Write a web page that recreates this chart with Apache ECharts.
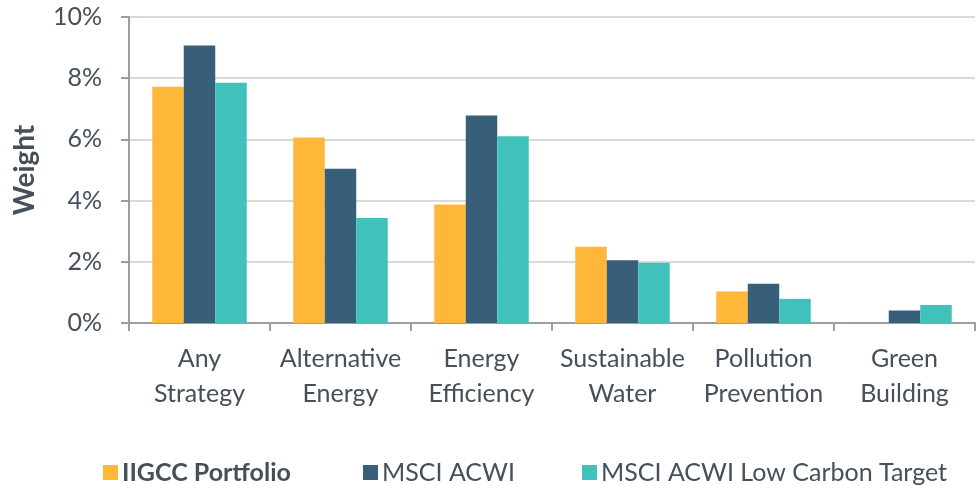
<!DOCTYPE html>
<html>
<head>
<meta charset="utf-8">
<script src="https://cdn.jsdelivr.net/npm/echarts@6/dist/echarts.min.js"></script>
<style>
  html, body { margin: 0; padding: 0; background: #fff; }
  #chart { width: 979px; height: 485px; }
</style>
</head>
<body>
<div id="chart"></div>
<script>
// Thematic strategy weights by portfolio (%)
const categories = ['Any\nStrategy', 'Alternative\nEnergy', 'Energy\nEfficiency', 'Sustainable\nWater', 'Pollution\nPrevention', 'Green\nBuilding'];
const seriesNames = ['IIGCC Portfolio', 'MSCI ACWI', 'MSCI ACWI Low Carbon Target'];
const iigccPortfolio = [7.72, 6.06, 3.87, 2.49, 1.03, 0];
const msciAcwi = [9.07, 5.04, 6.78, 2.05, 1.28, 0.41];
const msciAcwiLowCarbon = [7.85, 3.43, 6.10, 1.97, 0.79, 0.59];
const yTicks = [0, 2, 4, 6, 8, 10];

const colors = ['#FFB739', '#375F7A', '#41C1BB'];
const textColor = '#46505A';
const fontFamily = 'Lato, "Open Sans", sans-serif';

const chart = echarts.init(document.getElementById('chart'));

const legendPos = [98, 358, 577];
const legends = seriesNames.map((name, i) => ({
  data: [name],
  left: legendPos[i],
  top: 455,
  itemWidth: 15,
  itemHeight: 15,
  itemGap: 8,
  icon: 'rect',
  textStyle: {
    color: textColor,
    fontSize: 25,
    fontFamily: fontFamily,
    fontWeight: i === 0 ? 'bold' : 'normal',
    padding: [0, 0, 0, -1]
  }
}));

chart.setOption({
  animation: false,
  color: colors,
  textStyle: { fontFamily: fontFamily },
  legend: legends,
  grid: { left: 129, right: 4, top: 17, bottom: 162, containLabel: false },
  xAxis: {
    type: 'category',
    data: categories,
    axisLine: { lineStyle: { color: '#9A9FA3', width: 2 } },
    axisTick: { show: true, length: 8, lineStyle: { color: '#9A9FA3', width: 2 } },
    axisLabel: {
      interval: 0,
      color: textColor,
      fontSize: 25,
      lineHeight: 35,
      margin: 18,
      fontFamily: fontFamily
    }
  },
  yAxis: {
    type: 'value',
    min: yTicks[0],
    max: yTicks[yTicks.length - 1],
    interval: 2,
    name: 'Weight',
    nameLocation: 'middle',
    nameGap: 90,
    nameRotate: 90,
    nameTextStyle: { color: textColor, fontSize: 28, fontWeight: 'bold', fontFamily: fontFamily },
    axisLine: { show: true, lineStyle: { color: '#9A9FA3', width: 2 } },
    axisTick: { show: true, length: 8, lineStyle: { color: '#9A9FA3', width: 2 } },
    splitLine: { lineStyle: { color: '#DDD9D3', width: 2 } },
    axisLabel: {
      color: textColor,
      fontSize: 25,
      margin: 27,
      formatter: '{value}%',
      fontFamily: fontFamily
    }
  },
  series: [
    { name: seriesNames[0], type: 'bar', data: iigccPortfolio, barGap: '0%', barCategoryGap: '33%' },
    { name: seriesNames[1], type: 'bar', data: msciAcwi, barGap: '0%', barCategoryGap: '33%' },
    { name: seriesNames[2], type: 'bar', data: msciAcwiLowCarbon, barGap: '0%', barCategoryGap: '33%' }
  ]
});
</script>
</body>
</html>
